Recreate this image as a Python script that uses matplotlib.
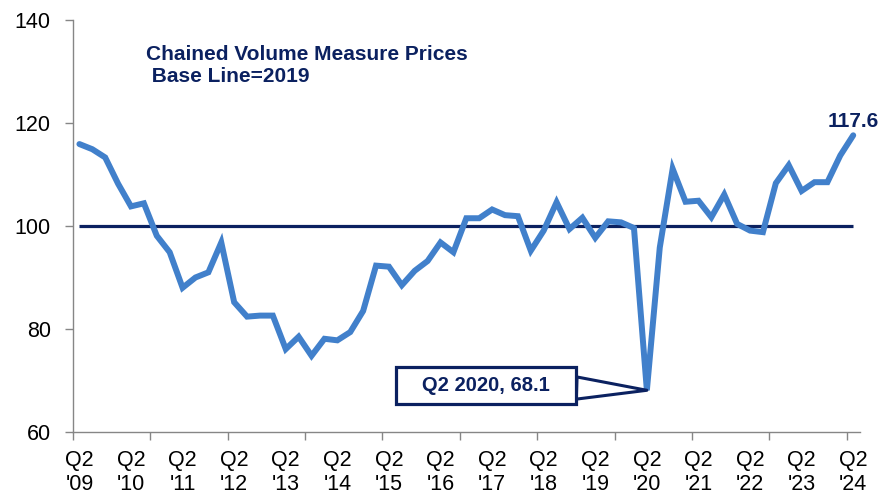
import matplotlib.pyplot as plt
import numpy as np

# Quarterly index, Q2 2009 .. Q2 2024 (2019 = 100)
values = [
    115.9, 114.9, 113.3, 108.2, 103.8, 104.4, 98.1, 94.9, 88.0, 90.0, 91.0, 96.8,
    85.2, 82.4, 82.6, 82.6, 76.1, 78.5, 74.8, 78.1, 77.8, 79.4, 83.5, 92.3,
    92.1, 88.5, 91.3, 93.2, 96.8, 94.9, 101.5, 101.5, 103.2, 102.1, 101.9, 95.2,
    99.1, 104.6, 99.4, 101.6, 97.7, 100.9, 100.7, 99.6, 68.1, 95.8, 111.1, 104.7,
    104.9, 101.7, 106.1, 100.4, 99.1, 98.8, 108.3, 111.8, 106.8, 108.5, 108.5, 113.7,
    117.6,
]
baseline = [100] * len(values)
years = ["'09", "'10", "'11", "'12", "'13", "'14", "'15", "'16",
         "'17", "'18", "'19", "'20", "'21", "'22", "'23", "'24"]
tick_labels = ["Q2\n" + y for y in years]
title = "Chained Volume Measure Prices\n Base Line=2019"
low_label = "   Q2 2020, 68.1   "
last_label = "117.6"

plt.rcParams['font.family'] = ['Liberation Sans', 'DejaVu Sans']

blue = '#4180CB'
navy = '#0B2160'
grey = '#868686'

fig = plt.figure(figsize=(8.79, 4.98), dpi=100)
ax = fig.add_axes([0.083, 0.1325, 0.895, 0.8275])

x = np.arange(len(values))
ax.plot(x, baseline, color=navy, lw=2.3, solid_capstyle='butt', zorder=2)
ax.plot(x, values, color=blue, lw=4.3, solid_joinstyle='miter', solid_capstyle='round', zorder=3)

ax.set_xlim(-0.5, len(values) - 0.5)
ax.set_ylim(60, 140)
ax.set_yticks(np.arange(60, 141, 20))

# tick marks every 6 quarters, labels every 4 quarters
ax.set_xticks(np.arange(-0.5, len(values), 6))
ax.set_xticklabels([])
ax.set_xticks(np.arange(0, len(values), 4), minor=True)
ax.set_xticklabels(tick_labels, minor=True, linespacing=1.2)
ax.tick_params(axis='x', which='major', length=6, color=grey, width=1)
ax.tick_params(axis='x', which='minor', length=0, pad=13, labelsize=15.5)
ax.tick_params(axis='y', length=6, color=grey, width=1, labelsize=15.5, pad=10)

for s in ['top', 'right']:
    ax.spines[s].set_visible(False)
for s in ['left', 'bottom']:
    ax.spines[s].set_color(grey)
    ax.spines[s].set_linewidth(1)

ax.text(0.093, 0.94, title, transform=ax.transAxes, ha='left', va='top',
        fontsize=15, fontweight='bold', color=navy, linespacing=1.25)

ax.annotate(last_label, xy=(x[-1], values[-1]), xytext=(0, 3), textcoords='offset points',
            ha='center', va='bottom', fontsize=15, fontweight='bold', color=navy,
            annotation_clip=False)

low_i = int(np.argmin(values))
ax.annotate(low_label, xy=(x[low_i], values[low_i]), xytext=(31.5, 69.1), textcoords='data',
            ha='center', va='center', fontsize=14.5, fontweight='bold', color=navy,
            bbox=dict(boxstyle='square,pad=0.45', fc='white', ec=navy, lw=2.3),
            arrowprops=dict(arrowstyle='wedge,tail_width=1.1,shrink_factor=0.5', fc='white',
                            ec=navy, lw=2.2, shrinkA=0, shrinkB=0),
            zorder=5)

fig.savefig('out.png', dpi=100)
